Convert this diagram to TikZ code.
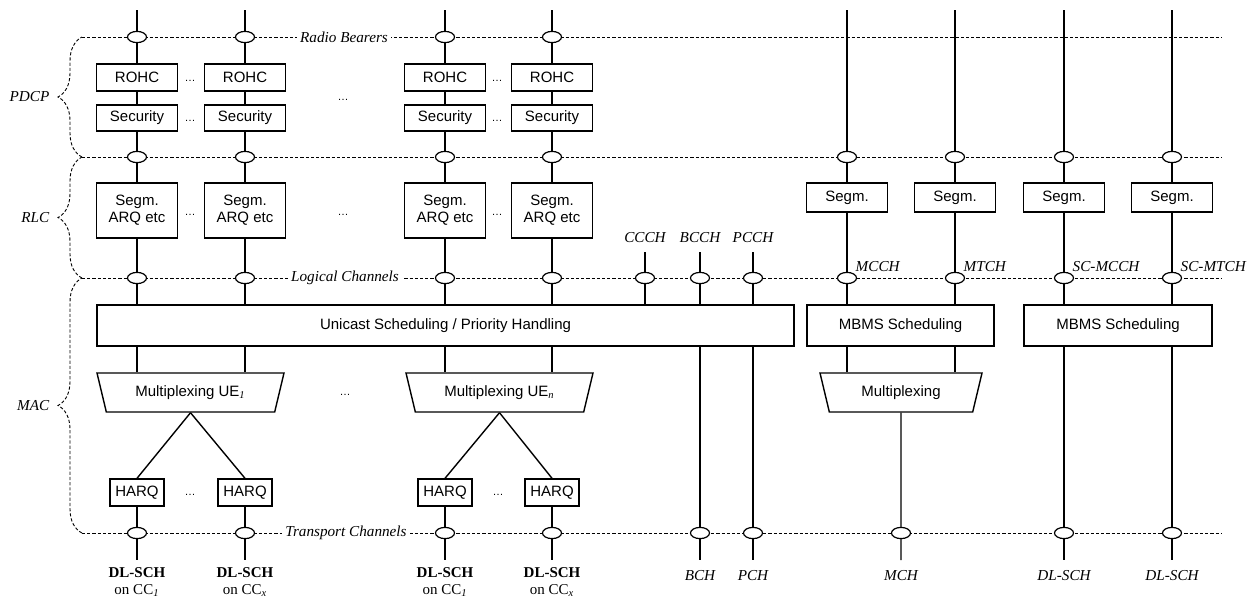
\documentclass[tikz,border=0pt]{standalone}
\usepackage{fontspec}
\setmainfont{Liberation Serif}
\setsansfont{Liberation Sans}
\usetikzlibrary{shapes.geometric, decorations.pathreplacing, positioning}

\begin{document}
\begin{tikzpicture}[x=0.5pt, y=-0.5pt, line width=0.7pt,
    box/.style={draw, fill=white, inner sep=0pt, align=center, font=\sffamily\fontsize{7.5}{8.6}\selectfont},
    sap/.style={draw, fill=white, ellipse, inner sep=0pt, minimum width=9.5pt, minimum height=5.6pt, line width=0.6pt},
    layer/.style={line width=0.45pt, dash pattern=on 1.6pt off 1pt},
    chan/.style={inner sep=0pt, font=\rmfamily\itshape\fontsize{7.6}{9}\selectfont},
    lname/.style={fill=white, inner sep=1.5pt, font=\rmfamily\itshape\fontsize{7.6}{9}\selectfont},
    mux/.style={draw, fill=white, trapezium, shape border rotate=180, trapezium angle=56.3, trapezium stretches body, minimum height=19.5pt, inner sep=0pt, font=\sffamily\fontsize{7.5}{9}\selectfont},
    dots/.style={inner sep=0pt, font=\sffamily\fontsize{5.5}{6}\selectfont},
    dl/.style={inner sep=0pt, align=center, font=\rmfamily\fontsize{7.5}{8.6}\selectfont}]
  \useasboundingbox (0,0) rectangle (1256,600);

  % layer boundaries and braces
  \foreach \y in {37,157,278,533}
    \draw[layer] (82,\y) -- (1222,\y);
  \draw[layer, decorate, decoration={brace, amplitude=12pt}] (82,157) -- (82,37);
  \draw[layer, decorate, decoration={brace, amplitude=12pt}] (82,278) -- (82,157);
  \draw[layer, decorate, decoration={brace, amplitude=12pt}] (82,533) -- (82,278);
  \node[chan, anchor=east] (pdcp) at (50,97) {PDCP};
  \node[chan, anchor=east] (rlc) at (50,217.5) {RLC};
  \node[chan, anchor=east] (mac) at (50,405.5) {MAC};
  \node[lname] (rb) at (344,37) {Radio Bearers};
  \node[lname] (lc) at (345,278) {Logical Channels};
  \node[lname] (tc) at (346,533) {Transport Channels};

  % unicast part
  \node[box, minimum width=348.5pt, minimum height=20.5pt] (uni) at (445.5,325.5) {Unicast Scheduling / Priority Handling};
  \node[mux, minimum width=93.5pt] (mux1) at (190.5,392.5) {Multiplexing UE\textsubscript{\rmfamily\itshape 1}};
  \node[mux, minimum width=93.5pt] (mux2) at (499.5,392.5) {Multiplexing UE\textsubscript{\rmfamily\itshape n}};
  \foreach \i/\x/\m/\sub in {1/137/mux1/1, 2/245/mux1/x, 3/445/mux2/1, 4/552/mux2/x} {
    \coordinate (top\i) at (\x,10);
    \node[sap] (rb\i) at (\x,37) {};
    \node[box, minimum width=40.5pt, minimum height=13.5pt] (rohc\i) at (\x,77.5) {ROHC};
    \node[box, minimum width=40.5pt, minimum height=13pt] (sec\i) at (\x,118) {Security};
    \node[sap] (pr\i) at (\x,157) {};
    \node[box, minimum width=40.5pt, minimum height=27.5pt] (arq\i) at (\x,210.5) {Segm.\\ARQ etc};
    \node[sap] (lc\i) at (\x,278) {};
    \node[box, minimum width=27pt, minimum height=13.5pt] (harq\i) at (\x,492.5) {HARQ};
    \node[sap] (tc\i) at (\x,533) {};
    \coordinate (end\i) at (\x,560);
    \node[dl, below=3.5pt of end\i] (dlsch\i) {\textbf{DL-SCH}\\on CC\textsubscript{\itshape\sub}};
    \draw (top\i) -- (rb\i) -- (rohc\i) -- (sec\i) -- (pr\i) -- (arq\i) -- (lc\i) -- (uni.north -| lc\i);
    \draw (uni.south -| lc\i) -- (\m.north -| lc\i);
    \draw (\m.south) -- (harq\i.north);
    \draw (harq\i) -- (tc\i) -- (end\i);
  }
  \foreach \x/\y [count=\n] in {190/81, 190/121, 497/81, 497/121, 343/100, 190/215, 497/215, 343/215, 345/395, 190/495, 498/495}
    \node[dots] (dots\n) at (\x,\y) {\ldots};

  % common channels
  \foreach \i/\x/\name in {5/645/CCCH, 6/700/BCCH, 7/753/PCCH} {
    \coordinate (top\i) at (\x,252);
    \node[chan, above=4.5pt of top\i] (lab\i) {\name};
    \node[sap] (lc\i) at (\x,278) {};
    \draw (top\i) -- (lc\i) -- (uni.north -| lc\i);
  }
  \foreach \i/\x/\name in {6/700/BCH, 7/753/PCH} {
    \node[sap] (tc\i) at (\x,533) {};
    \coordinate (end\i) at (\x,560);
    \node[chan, below=5pt of end\i] (tr\i) {\name};
    \draw (uni.south -| lc\i) -- (tc\i) -- (end\i);
  }

  % MBMS part
  \node[box, minimum width=93.5pt, minimum height=20.5pt] (mbms1) at (900.5,325.5) {MBMS Scheduling};
  \node[box, minimum width=94pt, minimum height=20.5pt] (mbms2) at (1118,325.5) {MBMS Scheduling};
  \node[mux, minimum width=81pt] (mux3) at (901,392.5) {Multiplexing};
  \foreach \i/\x/\name/\sch in {8/847/MCCH/mbms1, 9/955/MTCH/mbms1, 10/1064/SC-MCCH/mbms2, 11/1172/SC-MTCH/mbms2} {
    \coordinate (top\i) at (\x,10);
    \node[sap] (pr\i) at (\x,157) {};
    \node[box, minimum width=40.5pt, minimum height=14.5pt] (segm\i) at (\x,197.5) {Segm.};
    \node[sap] (lc\i) at (\x,278) {};
    \node[chan, anchor=south west] (lab\i) at (\x+8,272) {\name};
    \draw (top\i) -- (pr\i) -- (segm\i) -- (lc\i) -- (\sch.north -| lc\i);
  }
  \foreach \i in {8,9}
    \draw (mbms1.south -| lc\i) -- (mux3.north -| lc\i);
  \node[sap] (tc8) at (901,533) {};
  \coordinate (end8) at (901,560);
  \node[chan, below=5pt of end8] (tr8) {MCH};
  \draw (mux3.south) -- (tc8) -- (end8);
  \foreach \i/\x in {10/1064, 11/1172} {
    \node[sap] (tc\i) at (\x,533) {};
    \coordinate (end\i) at (\x,560);
    \node[chan, below=5pt of end\i] (tr\i) {DL-SCH};
    \draw (mbms2.south -| lc\i) -- (tc\i) -- (end\i);
  }
\end{tikzpicture}
\end{document}
